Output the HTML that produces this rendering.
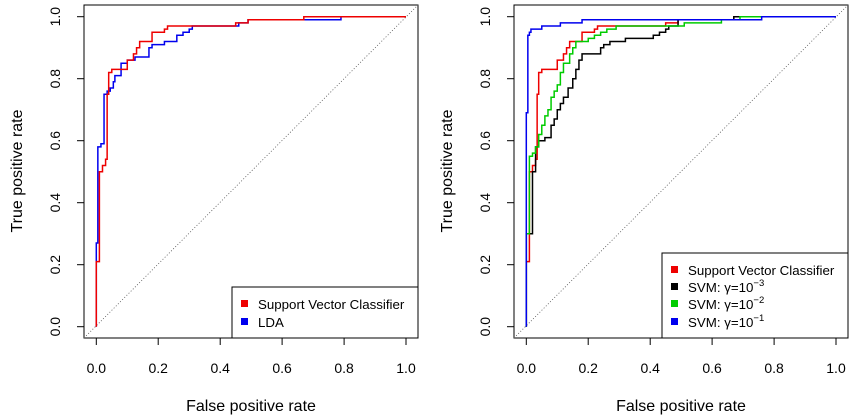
<!DOCTYPE html>
<html><head><meta charset="utf-8"><style>
html,body{margin:0;padding:0;background:#fff;}
svg{display:block;font-family:"Liberation Sans",sans-serif;}
</style></head><body>
<svg width="859" height="420" viewBox="0 0 859 420" xmlns="http://www.w3.org/2000/svg">
<defs>
<g id="axes">
  <rect x="84" y="5" width="334" height="333" fill="none" stroke="#000" stroke-width="1"/>
  <g stroke="#000" stroke-width="1">
    <line x1="96.3" y1="338" x2="406" y2="338"/>
    <line x1="96.3" y1="338" x2="96.3" y2="345"/><line x1="158.2" y1="338" x2="158.2" y2="345"/>
    <line x1="220.2" y1="338" x2="220.2" y2="345"/><line x1="282.1" y1="338" x2="282.1" y2="345"/>
    <line x1="344.1" y1="338" x2="344.1" y2="345"/><line x1="406" y1="338" x2="406" y2="345"/>
    <line x1="84" y1="16.7" x2="84" y2="326.7"/>
    <line x1="77" y1="326.7" x2="84" y2="326.7"/><line x1="77" y1="264.7" x2="84" y2="264.7"/>
    <line x1="77" y1="202.7" x2="84" y2="202.7"/><line x1="77" y1="140.7" x2="84" y2="140.7"/>
    <line x1="77" y1="78.7" x2="84" y2="78.7"/><line x1="77" y1="16.7" x2="84" y2="16.7"/>
  </g>
  <g font-size="14" text-anchor="middle" fill="#000">
    <text x="96.3" y="373">0.0</text><text x="158.2" y="373">0.2</text><text x="220.2" y="373">0.4</text>
    <text x="282.1" y="373">0.6</text><text x="344.1" y="373">0.8</text><text x="406" y="373">1.0</text>
    <text transform="translate(60,326.7) rotate(-90)">0.0</text>
    <text transform="translate(60,264.7) rotate(-90)">0.2</text>
    <text transform="translate(60,202.7) rotate(-90)">0.4</text>
    <text transform="translate(60,140.7) rotate(-90)">0.6</text>
    <text transform="translate(60,78.7) rotate(-90)">0.8</text>
    <text transform="translate(60,16.7) rotate(-90)">1.0</text>
  </g>
  <text x="251" y="411" font-size="16" text-anchor="middle">False positive rate</text>
  <text transform="translate(22,171) rotate(-90)" font-size="16" text-anchor="middle">True positive rate</text>
  <line x1="84" y1="338" x2="418" y2="5" stroke="#555" stroke-width="0.8" stroke-dasharray="1,2"/>
</g>
<polyline id="svc" points="0,0 0,0.21 0.01,0.21 0.01,0.5 0.02,0.5 0.02,0.52 0.03,0.52 0.03,0.54 0.035,0.54 0.035,0.75 0.04,0.75 0.04,0.82 0.05,0.82 0.05,0.83 0.1,0.83 0.1,0.86 0.12,0.86 0.12,0.88 0.13,0.88 0.13,0.9 0.14,0.9 0.14,0.92 0.18,0.92 0.18,0.95 0.22,0.95 0.22,0.96 0.23,0.96 0.23,0.97 0.45,0.97 0.45,0.98 0.49,0.98 0.49,0.99 0.67,0.99 0.67,1 1,1" fill="none" stroke="#e00" stroke-width="1.5" vector-effect="non-scaling-stroke"/>
</defs>

<use href="#axes"/>
<g transform="translate(96.3,326.7) scale(309.7,-310)">
<polyline points="0,0 0,0.27 0.005,0.27 0.005,0.58 0.015,0.58 0.015,0.59 0.025,0.59 0.025,0.75 0.035,0.75 0.035,0.76 0.045,0.76 0.045,0.77 0.055,0.77 0.055,0.79 0.06,0.79 0.06,0.81 0.08,0.81 0.08,0.85 0.1,0.85 0.1,0.86 0.125,0.86 0.125,0.87 0.17,0.87 0.17,0.9 0.18,0.9 0.18,0.91 0.22,0.91 0.22,0.92 0.26,0.92 0.26,0.94 0.28,0.94 0.28,0.95 0.3,0.95 0.3,0.96 0.31,0.96 0.31,0.97 0.46,0.97 0.46,0.98 0.49,0.98 0.49,0.99 0.79,0.99 0.79,1 1,1" fill="none" stroke="#00e" stroke-width="1.5" vector-effect="non-scaling-stroke"/>
<use href="#svc"/>
</g>
<rect x="232" y="287" width="186" height="51" fill="#fff" stroke="#000"/>
<rect x="241" y="300" width="7" height="7" fill="#e00"/>
<rect x="241" y="318" width="7" height="7" fill="#00e"/>
<g font-size="13.3"><text x="258" y="309">Support Vector Classifier</text><text x="258" y="327">LDA</text></g>

<g transform="translate(430,0)"><use href="#axes"/></g>
<g transform="translate(526.3,326.7) scale(309.7,-310)">
<use href="#svc"/>
<polyline points="0,0 0,0.3 0.02,0.3 0.02,0.5 0.03,0.5 0.03,0.58 0.04,0.58 0.04,0.6 0.06,0.6 0.06,0.61 0.08,0.61 0.08,0.65 0.09,0.65 0.09,0.67 0.1,0.67 0.1,0.7 0.11,0.7 0.11,0.72 0.12,0.72 0.12,0.74 0.135,0.74 0.135,0.77 0.15,0.77 0.15,0.8 0.16,0.8 0.16,0.83 0.17,0.83 0.17,0.86 0.18,0.86 0.18,0.88 0.24,0.88 0.24,0.9 0.25,0.9 0.25,0.91 0.27,0.91 0.27,0.92 0.32,0.92 0.32,0.93 0.41,0.93 0.41,0.94 0.43,0.94 0.43,0.95 0.45,0.95 0.45,0.96 0.46,0.96 0.46,0.97 0.49,0.97 0.49,0.99 0.67,0.99 0.67,1 1,1" fill="none" stroke="#000" stroke-width="1.5" vector-effect="non-scaling-stroke"/>
<polyline points="0,0 0,0.3 0.01,0.3 0.01,0.55 0.02,0.55 0.02,0.56 0.03,0.56 0.03,0.58 0.04,0.58 0.04,0.62 0.05,0.62 0.05,0.65 0.06,0.65 0.06,0.68 0.07,0.68 0.07,0.7 0.08,0.7 0.08,0.74 0.09,0.74 0.09,0.76 0.1,0.76 0.1,0.78 0.11,0.78 0.11,0.82 0.12,0.82 0.12,0.85 0.14,0.85 0.14,0.88 0.15,0.88 0.15,0.9 0.16,0.9 0.16,0.92 0.2,0.92 0.2,0.93 0.22,0.93 0.22,0.94 0.24,0.94 0.24,0.95 0.26,0.95 0.26,0.96 0.29,0.96 0.29,0.97 0.51,0.97 0.51,0.98 0.63,0.98 0.63,0.99 0.69,0.99 0.69,1 1,1" fill="none" stroke="#0c0" stroke-width="1.5" vector-effect="non-scaling-stroke"/>
<polyline points="0,0 0,0.69 0.005,0.69 0.005,0.94 0.01,0.94 0.01,0.95 0.015,0.95 0.015,0.96 0.05,0.96 0.05,0.97 0.11,0.97 0.11,0.98 0.18,0.98 0.18,0.99 0.76,0.99 0.76,1 1,1" fill="none" stroke="#00e" stroke-width="1.5" vector-effect="non-scaling-stroke"/>
</g>
<rect x="662" y="253" width="186" height="85" fill="#fff" stroke="#000"/>
<rect x="671" y="266" width="7" height="7" fill="#e00"/>
<rect x="671" y="283" width="7" height="7" fill="#000"/>
<rect x="671" y="300" width="7" height="7" fill="#0c0"/>
<rect x="671" y="318" width="7" height="7" fill="#00e"/>
<g font-size="13.3">
<text x="688" y="275">Support Vector Classifier</text>
<text x="688" y="292">SVM: γ=10<tspan font-size="9.5" dy="-6">−3</tspan></text>
<text x="688" y="309">SVM: γ=10<tspan font-size="9.5" dy="-6">−2</tspan></text>
<text x="688" y="327">SVM: γ=10<tspan font-size="9.5" dy="-6">−1</tspan></text>
</g>
</svg>
</body></html>
